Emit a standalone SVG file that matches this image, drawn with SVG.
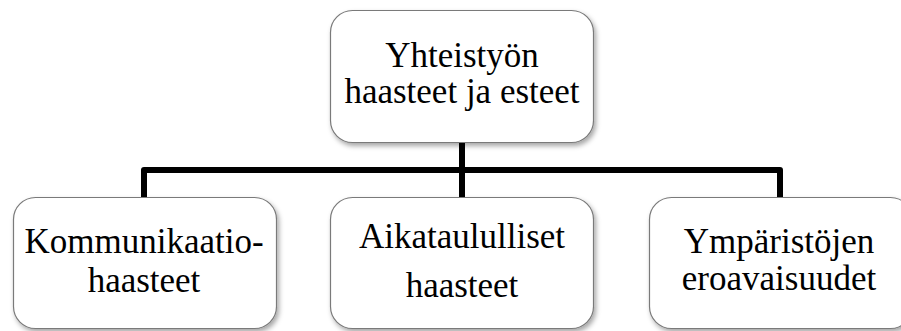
<svg xmlns="http://www.w3.org/2000/svg" width="901" height="331" viewBox="0 0 901 331">
  <style>
    .box { fill: #ffffff; stroke: #7a7a7a; stroke-width: 1.2; filter: url(#shadow); }
    .lbl { font-family: 'Liberation Serif', 'Times New Roman', serif; font-size: 35px; fill: #000000; text-anchor: middle; }
    .link { fill: none; stroke: #000000; stroke-width: 6; stroke-linejoin: round; }
  </style>
  <defs>
    <filter id="shadow" x="-10%" y="-10%" width="125%" height="130%">
      <feDropShadow dx="2" dy="3" stdDeviation="2.5" flood-color="#000000" flood-opacity="0.35"/>
    </filter>
  </defs>
  <rect width="901" height="331" fill="#ffffff"/>

  <!-- connectors: trunk from root, bus bar, drops to children -->
  <g id="connectors">
    <path class="link" d="M462 142 V170"/>
    <path class="link" d="M144 198 V170 H780 V198"/>
    <path class="link" d="M462 170 V198"/>
  </g>

  <g id="root">
    <rect class="box" x="330.5" y="10.5" width="263" height="132" rx="22"/>
    <text class="lbl" x="462" y="67">Yhteistyön</text>
    <text class="lbl" x="462" y="103">haasteet ja esteet</text>
  </g>

  <g id="kommunikaatio">
    <rect class="box" x="13.5" y="197.5" width="263" height="131" rx="22"/>
    <text class="lbl" x="144" y="253">Kommunikaatio-</text>
    <text class="lbl" x="144" y="292">haasteet</text>
  </g>

  <g id="aikataulu">
    <rect class="box" x="330.5" y="197.5" width="263" height="131" rx="22"/>
    <text class="lbl" x="462" y="248">Aikataululliset</text>
    <text class="lbl" x="462" y="297">haasteet</text>
  </g>

  <g id="ymparisto">
    <rect class="box" x="649.5" y="197.5" width="263" height="131" rx="22"/>
    <text class="lbl" x="779" y="253">Ympäristöjen</text>
    <text class="lbl" x="779" y="290">eroavaisuudet</text>
  </g>
</svg>
